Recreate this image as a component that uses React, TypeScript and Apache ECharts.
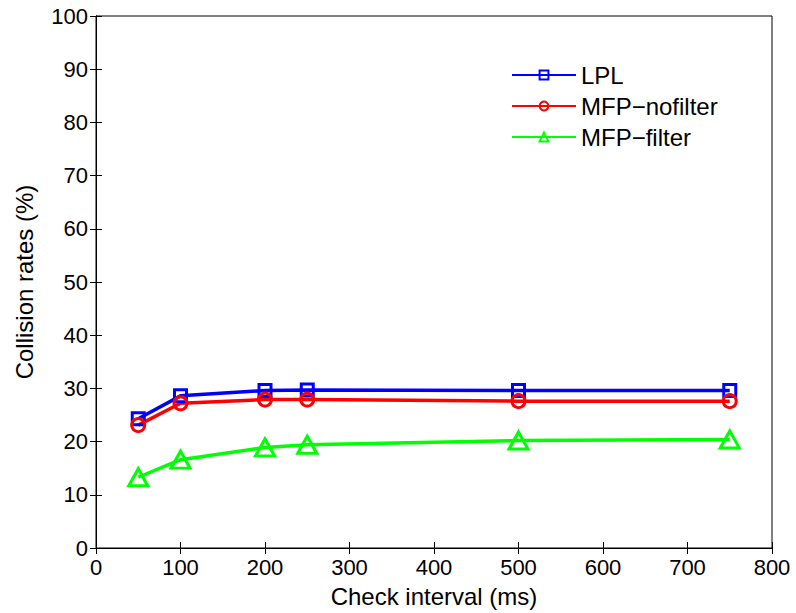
import React, { useEffect, useRef } from "react";
import * as echarts from "echarts";

const xValues = [50, 100, 200, 250, 500, 750];
const lplValues = [24.3, 28.6, 29.6, 29.7, 29.6, 29.6];
const nofilterValues = [23.1, 27.2, 27.9, 27.9, 27.6, 27.6];
const filterValues = [13.3, 16.6, 18.9, 19.4, 20.2, 20.4];
const seriesNames = ["LPL", "MFP\u2212nofilter", "MFP\u2212filter"];

const FONT = "Liberation Sans, Arial, Helvetica, sans-serif";

export default function App() {
  const ref = useRef<HTMLDivElement>(null);
  useEffect(() => {
    if (!ref.current) return;
    const chart = echarts.init(ref.current, undefined, { renderer: "svg" });
    const pair = (vals: number[]) => xValues.map((x, i) => [x, vals[i]]);
    const mk = (name: string, vals: number[], color: string, symbol: string, size: any) => ({
      name,
      type: "line",
      data: pair(vals),
      symbol,
      symbolSize: size,
      showAllSymbol: true,
      lineStyle: { color, width: 3.5 },
      itemStyle: { color: "rgba(255,255,255,0)", borderColor: color, borderWidth: 3 },
      emphasis: { disabled: true },
      xAxisIndex: 0,
      yAxisIndex: 0,
    });
    const tickStyle = { color: "#000", fontSize: 22, fontFamily: FONT };
    chart.setOption({
      animation: false,
      grid: {
        left: 96,
        right: 24,
        top: 16,
        bottom: 63,
        show: true,
        borderColor: "#000",
        borderWidth: 1,
        backgroundColor: "#fff",
      },
      legend: {
        orient: "vertical",
        left: 506,
        top: 58,
        itemWidth: 64,
        itemHeight: 11,
        itemGap: 7,
        data: seriesNames,
        textStyle: { color: "#000", fontSize: 24, fontFamily: FONT },
        selectedMode: false,
      },
      xAxis: [
        {
          type: "value",
          min: 0,
          max: 800,
          interval: 100,
          position: "bottom",
          name: "Check interval (ms)",
          nameLocation: "middle",
          nameGap: 36,
          nameTextStyle: { color: "#000", fontSize: 24, fontFamily: FONT },
          axisLine: { show: true, lineStyle: { color: "#000", width: 1 } },
          axisTick: { show: true, inside: true, length: 6, lineStyle: { color: "#000" } },
          axisLabel: { ...tickStyle, margin: 8 },
          splitLine: { show: false },
        },
        {
          type: "value",
          min: 0,
          max: 800,
          interval: 100,
          position: "top",
          axisLine: { show: true, lineStyle: { color: "#000", width: 1 } },
          axisTick: { show: true, inside: true, length: 6, lineStyle: { color: "#000" } },
          axisLabel: { show: false },
          splitLine: { show: false },
        },
      ],
      yAxis: [
        {
          type: "value",
          min: 0,
          max: 100,
          interval: 10,
          position: "left",
          name: "Collision rates (%)",
          nameLocation: "middle",
          nameGap: 60,
          nameTextStyle: { color: "#000", fontSize: 24, fontFamily: FONT },
          axisLine: { show: true, lineStyle: { color: "#000", width: 1 } },
          axisTick: { show: true, inside: true, length: 6, lineStyle: { color: "#000" } },
          axisLabel: { ...tickStyle, margin: 8 },
          splitLine: { show: false },
        },
        {
          type: "value",
          min: 0,
          max: 100,
          interval: 10,
          position: "right",
          axisLine: { show: true, lineStyle: { color: "#000", width: 1 } },
          axisTick: { show: true, inside: true, length: 6, lineStyle: { color: "#000" } },
          axisLabel: { show: false },
          splitLine: { show: false },
        },
      ],
      series: [
        mk(seriesNames[0], lplValues, "#0000ff", "rect", 12),
        mk(seriesNames[1], nofilterValues, "#ff0000", "circle", 13),
        mk(seriesNames[2], filterValues, "#00ff00", "triangle", [19, 17]),
      ],
    });
    return () => chart.dispose();
  }, []);
  return (
    <div
      ref={ref}
      style={{ position: "fixed", left: 0, top: 0, width: 796, height: 613, background: "#fff" }}
    />
  );
}
